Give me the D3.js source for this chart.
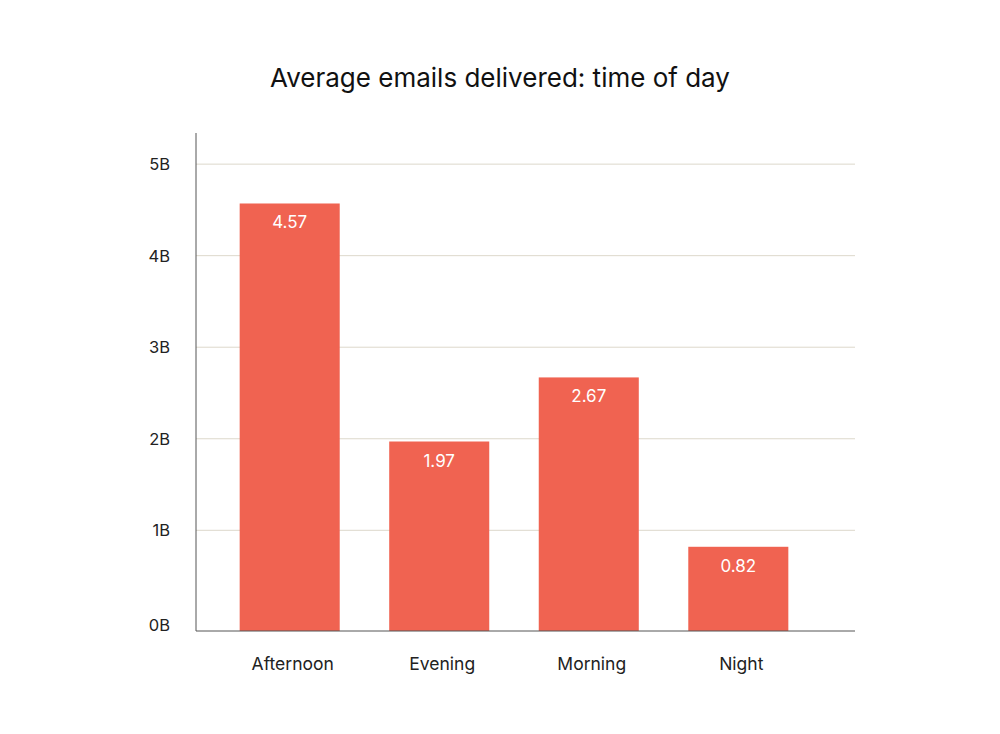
<!DOCTYPE html>
<html>
<head>
<meta charset="utf-8">
<script src="https://cdn.jsdelivr.net/npm/d3@7"></script>
<style>
  body { margin: 0; background: #fff; }
  text { font-family: Inter, "Liberation Sans", sans-serif; }
</style>
</head>
<body>
<div id="chart"></div>
<script>
// data
const categories = ["Afternoon", "Evening", "Morning", "Night"];
const emails = [4.57, 1.97, 2.67, 0.82];   // billions
const yTicks = [0, 1, 2, 3, 4, 5];
const tickLabels = ["0B", "1B", "2B", "3B", "4B", "5B"];

const width = 1000, height = 734;
const plot = {left: 196, right: 855, top: 133, bottom: 631};

let svg = d3.select("#chart")
    .append("svg")
    .attr("width", width)
    .attr("height", height);

// axis floor sits a little under zero, like the reference
let y = d3.scaleLinear()
    .domain([-0.1, 5.34])
    .range([plot.bottom, plot.top]);

let x = d3.scaleBand()
    .domain(categories)
    .range([215, 813])
    .paddingInner(0.331)
    .paddingOuter(0.165);

// gridlines
svg.append("g")
    .selectAll("line")
    .data(yTicks.filter(d => d > 0))
    .enter()
    .append("line")
    .attr("x1", plot.left)
    .attr("x2", plot.right)
    .attr("y1", d => y(d))
    .attr("y2", d => y(d))
    .attr("stroke", "#ddd8cb")
    .attr("stroke-width", 1);

// tick labels
svg.append("g")
    .selectAll("text")
    .data(yTicks)
    .enter()
    .append("text")
    .attr("x", 170)
    .attr("y", d => d === 0 ? y(d) + 9 : y(d) + 6)
    .style("text-anchor", "end")
    .style("font-size", "16.5px")
    .attr("fill", "#222")
    .text((d, i) => tickLabels[i]);

// bars
let data = categories.map((c, i) => ({name: c, value: emails[i]}));

svg.append("g")
    .selectAll("rect")
    .data(data)
    .enter()
    .append("rect")
    .attr("x", d => x(d.name))
    .attr("y", d => y(d.value))
    .attr("width", x.bandwidth())
    .attr("height", d => y(-0.1) - y(d.value))
    .attr("fill", "#f06351");

// value labels
svg.append("g")
    .selectAll("text")
    .data(data)
    .enter()
    .append("text")
    .attr("x", d => x(d.name) + x.bandwidth() / 2)
    .attr("y", d => y(d.value) + 25)
    .style("text-anchor", "middle")
    .style("font-size", "17px")
    .attr("fill", "#fff")
    .text(d => d.value.toFixed(2));

// category labels (sit a touch right of the bar centre)
svg.append("g")
    .selectAll("text")
    .data(categories)
    .enter()
    .append("text")
    .attr("x", d => x(d) + x.bandwidth() / 2 + 3)
    .attr("y", 670)
    .style("text-anchor", "middle")
    .style("font-size", "17.5px")
    .attr("fill", "#222")
    .text(d => d);

// axes lines
svg.append("line")
    .attr("x1", plot.left).attr("x2", plot.left)
    .attr("y1", plot.top).attr("y2", plot.bottom)
    .attr("stroke", "#555");
svg.append("line")
    .attr("x1", plot.left).attr("x2", plot.right)
    .attr("y1", plot.bottom).attr("y2", plot.bottom)
    .attr("stroke", "#555");

// title
svg.append("text")
    .attr("x", 500)
    .attr("y", 87)
    .style("text-anchor", "middle")
    .style("font-size", "26px")
    .attr("fill", "#111")
    .text("Average emails delivered: time of day");
</script>
</body>
</html>
